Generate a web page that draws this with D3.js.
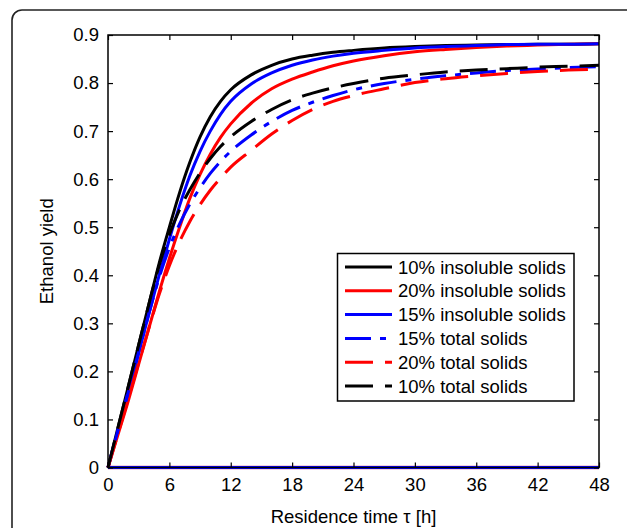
<!DOCTYPE html>
<html><head><meta charset="utf-8">
<script src="https://cdn.jsdelivr.net/npm/d3@7/dist/d3.min.js"></script>
<style>body{margin:0;background:#fff}svg{display:block}text{font-family:"Liberation Sans",Arial,Helvetica,sans-serif;fill:#000}</style>
</head><body><svg id="c" width="627" height="528"></svg>
<script>
const times = [0,1,2,3,4,5,6,7,8,9,10,11,12,14,16,18,20,22,24,27,30,33,36,39,42,45,48];
const insol10 = [0,0.085,0.17,0.255,0.34,0.425,0.50,0.572,0.635,0.688,0.73,0.762,0.786,0.817,0.837,0.85,0.858,0.864,0.868,0.873,0.876,0.878,0.879,0.880,0.881,0.881,0.882];
const insol20 = [0,0.07,0.14,0.215,0.29,0.365,0.435,0.50,0.56,0.61,0.652,0.687,0.715,0.758,0.788,0.808,0.823,0.836,0.846,0.857,0.865,0.870,0.874,0.877,0.879,0.881,0.882];
const insol15 = [0,0.08,0.158,0.238,0.32,0.40,0.475,0.545,0.607,0.658,0.70,0.735,0.762,0.798,0.821,0.837,0.848,0.856,0.862,0.868,0.873,0.876,0.878,0.880,0.881,0.881,0.882];
const total15 = [0,0.08,0.16,0.24,0.32,0.395,0.457,0.507,0.548,0.582,0.612,0.637,0.658,0.692,0.72,0.743,0.76,0.774,0.786,0.799,0.808,0.815,0.821,0.826,0.829,0.832,0.834];
const total20 = [0,0.072,0.145,0.218,0.29,0.36,0.42,0.47,0.512,0.547,0.577,0.602,0.625,0.66,0.694,0.722,0.745,0.762,0.774,0.788,0.801,0.809,0.815,0.820,0.824,0.827,0.829];
const total10 = [0,0.085,0.17,0.255,0.34,0.42,0.485,0.537,0.578,0.613,0.643,0.668,0.688,0.72,0.745,0.765,0.779,0.79,0.799,0.81,0.817,0.823,0.827,0.830,0.833,0.835,0.837];
const baseline = times.map(() => 0);
const seriesNames = ["10% insoluble solids","20% insoluble solids","15% insoluble solids","15% total solids","20% total solids","10% total solids"];
const seriesColors = ["#000000","#ff0000","#0000ff","#0000ff","#ff0000","#000000"];
const seriesDash = [null,null,null,"26,9,6,9","28,12","28,12"];
const seriesData = [insol10,insol20,insol15,total15,total20,total10];
const xTicks = [0,6,12,18,24,30,36,42,48];
const yTicks = [0,0.1,0.2,0.3,0.4,0.5,0.6,0.7,0.8,0.9];

const FS = 18.5;
const svg = d3.select("#c");
svg.append("rect").attr("x",12).attr("y",10).attr("width",640).attr("height",540)
  .attr("rx",10).attr("ry",10).attr("fill","none").attr("stroke","#222").attr("stroke-width",1.6);

const L=108, R=599, T=35, B=467.5;
const x = d3.scaleLinear().domain([0,48]).range([L,R]);
const y = d3.scaleLinear().domain([0,0.9]).range([B,T]);

const g = svg.append("g");
g.append("rect").attr("x",L).attr("y",T).attr("width",R-L).attr("height",B-T).attr("fill","#fff");

const line = d3.line().x((d,i)=>x(times[i])).y(d=>y(d)).curve(d3.curveMonotoneX);

g.append("path").datum(baseline).attr("d",line).attr("fill","none").attr("stroke","#e8a0c0").attr("stroke-width",4);
g.append("path").datum(baseline).attr("d",line).attr("fill","none").attr("stroke","#0000ff").attr("stroke-width",3);

seriesData.forEach((s,k)=>{
  g.append("path").datum(s).attr("d",line).attr("fill","none")
   .attr("stroke",seriesColors[k]).attr("stroke-width",3)
   .attr("stroke-dasharray",seriesDash[k]);
});

const tl = 5;
const axB = d3.axisBottom(x).tickValues(xTicks).tickSizeInner(-tl).tickSizeOuter(0).tickPadding(10).tickFormat(d3.format("d"));
const axT = d3.axisTop(x).tickValues(xTicks).tickSizeInner(-tl).tickSizeOuter(0).tickFormat("");
const axL = d3.axisLeft(y).tickValues(yTicks).tickSizeInner(-tl).tickSizeOuter(0).tickPadding(9).tickFormat(d=>d===0?"0":d3.format(".1f")(d));
const axR = d3.axisRight(y).tickValues(yTicks).tickSizeInner(-tl).tickSizeOuter(0).tickFormat("");
function style(sel){sel.select(".domain").remove();sel.selectAll("line").attr("stroke","#000").attr("stroke-width",1.2);sel.selectAll("text").attr("font-size",FS).attr("font-family","Liberation Sans, Arial, sans-serif").attr("fill","#000");}
g.append("g").attr("transform",`translate(0,${B})`).call(axB).call(style);
g.append("g").attr("transform",`translate(0,${T})`).call(axT).call(style);
g.append("g").attr("transform",`translate(${L},0)`).call(axL).call(style);
g.append("g").attr("transform",`translate(${R},0)`).call(axR).call(style);
g.append("rect").attr("x",L).attr("y",T).attr("width",R-L).attr("height",B-T).attr("fill","none").attr("stroke","#000").attr("stroke-width",1.5);

svg.append("text").attr("x",(L+R)/2).attr("y",523).attr("text-anchor","middle").attr("font-size",FS).text("Residence time τ [h]");
svg.append("text").attr("transform",`translate(53,${(T+B)/2}) rotate(-90)`).attr("text-anchor","middle").attr("font-size",FS).text("Ethanol yield");

const lg = svg.append("g");
lg.append("rect").attr("x",337.5).attr("y",253.5).attr("width",236.5).attr("height",147.5).attr("fill","#fff").attr("stroke","#000").attr("stroke-width",1.5);
seriesNames.forEach((n,k)=>{
  const yy = 267 + k*23.8;
  lg.append("line").attr("x1",345).attr("x2",392).attr("y1",yy).attr("y2",yy)
    .attr("stroke",seriesColors[k]).attr("stroke-width",3).attr("stroke-dasharray",seriesDash[k]);
  lg.append("text").attr("x",398).attr("y",yy+6.5).attr("font-size",FS).text(n);
});
</script></body></html>
